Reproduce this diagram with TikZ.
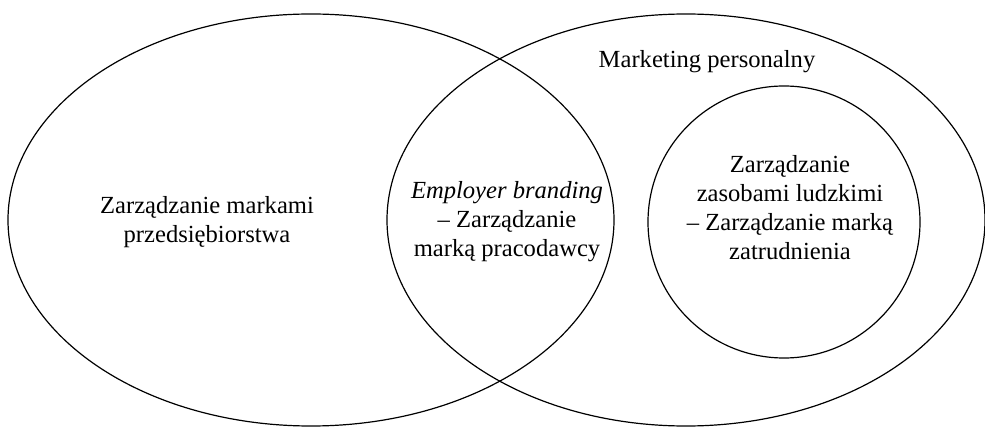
\documentclass[tikz,border=0pt]{standalone}
\usepackage{fontspec}
\setmainfont{Liberation Serif}
\usetikzlibrary{shapes.geometric}
\tikzset{
    setshape/.style={draw, ellipse, line width=0.6pt, inner sep=0pt},
    txt/.style={align=center, font=\fontsize{12.3}{14.5}\selectfont}
}

\begin{document}
\begin{tikzpicture}[x=0.5pt, y=-0.5pt]
    \useasboundingbox (0,0) rectangle (985,427);

    % the two overlapping sets
    \node[setshape, minimum width=303pt, minimum height=206pt] (brand) at (311,220) {};
    \node[setshape, minimum width=299pt, minimum height=206pt] (personal) at (686,220) {};
    % HR circle inside the right set
    \node[setshape, circle, minimum size=136pt] (hr) at (784,222) {};

    % texts
    \node[txt] (brandtxt) at (207,222) {Zarządzanie markami\\przedsiębiorstwa};
    \node[txt] (ebtxt) at (507,222) {\textit{Employer branding}\\– Zarządzanie\\marką pracodawcy};
    \node[txt] (hrtxt) at (790,208) {Zarządzanie\\zasobami ludzkimi\\– Zarządzanie marką\\zatrudnienia};
    \node[txt] (personaltxt) at (707,62) {Marketing personalny};
\end{tikzpicture}
\end{document}
